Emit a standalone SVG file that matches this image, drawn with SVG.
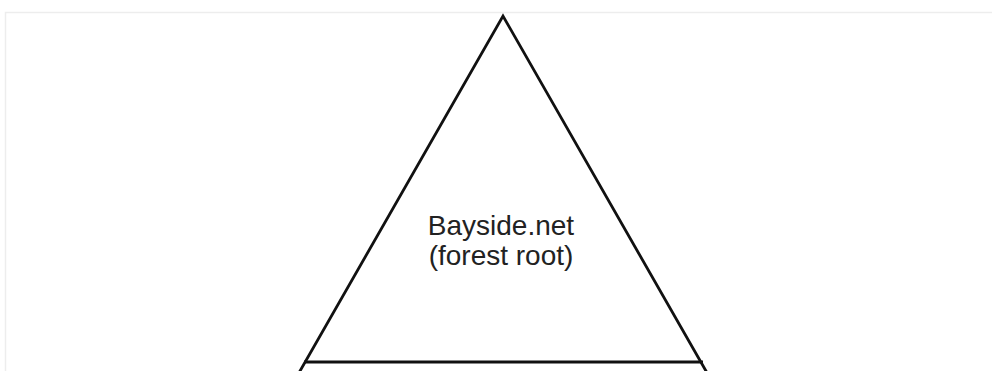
<svg xmlns="http://www.w3.org/2000/svg" width="992" height="371" viewBox="0 0 992 371">
  <style>
    .frame { fill: none; stroke: #ededed; stroke-width: 1.5; }
    .edge { fill: none; stroke: #111; stroke-width: 2.8; stroke-linejoin: miter; stroke-linecap: butt; }
    .label { font-family: "Liberation Sans", Arial, sans-serif; font-size: 28px; fill: #222; text-anchor: middle; }
  </style>
  <rect width="992" height="371" fill="#ffffff"/>
  <!-- faint page frame -->
  <path class="frame" d="M5.5,380 V12.5 H992"/>
  <g id="forest-root">
    <!-- domain triangle; the sides run past the base line -->
    <path class="edge" d="M296,378 L503,16 L710,378"/>
    <line class="edge" x1="304" y1="362" x2="703" y2="362"/>
    <text class="label" x="501" y="235">Bayside.net</text>
    <text class="label" x="501" y="265">(forest root)</text>
  </g>
  <g id="connectors"/>
</svg>
